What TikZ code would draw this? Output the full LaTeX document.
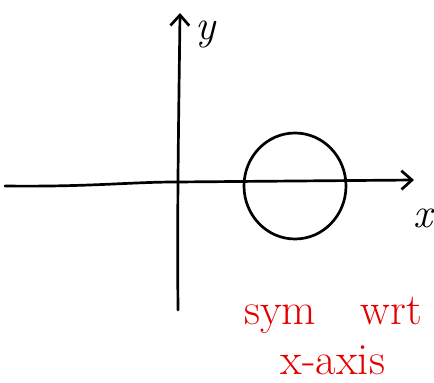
\documentclass[tikz,border=0pt]{standalone}
\usetikzlibrary{arrows.meta}
\begin{document}
\begin{tikzpicture}[x=0.03cm, y=-0.03cm, ln/.style={line width=2.3pt, line cap=round, line join=round},
        lbl/.style={font=\fontsize{36}{36}\selectfont\itshape, inner sep=0pt},
        note/.style={font=\fontsize{38}{42}\selectfont, text=red!90!black, inner sep=0pt, align=center}]
        \useasboundingbox (0,0) rectangle (434,383);
        % Achsen
        \coordinate (xl) at (5,186);
        \coordinate (o) at (176,182);
        \coordinate (xr) at (414,180);
        \coordinate (yb) at (178,310);
        \coordinate (yt) at (180,13);
        \draw[ln, -{Straight Barb[length=9pt, width=16pt]}] (xl) .. controls (90,187) and (130,182) .. (o) -- (xr);
        \draw[ln, -{Straight Barb[length=9pt, width=16pt]}] (yb) .. controls (177,200) and (179,100) .. (yt);
        \node[lbl] (ly) at (206,34) {y};
        \node[lbl] (lx) at (423,218) {x};
        % Kreis auf der x-Achse
        \draw[ln] (295,186) ellipse [x radius=51, y radius=53];
        % Notiz
        \node[note] (n) at (333,336) {sym\hspace{1em}wrt\\x-axis};
\end{tikzpicture}
\end{document}
